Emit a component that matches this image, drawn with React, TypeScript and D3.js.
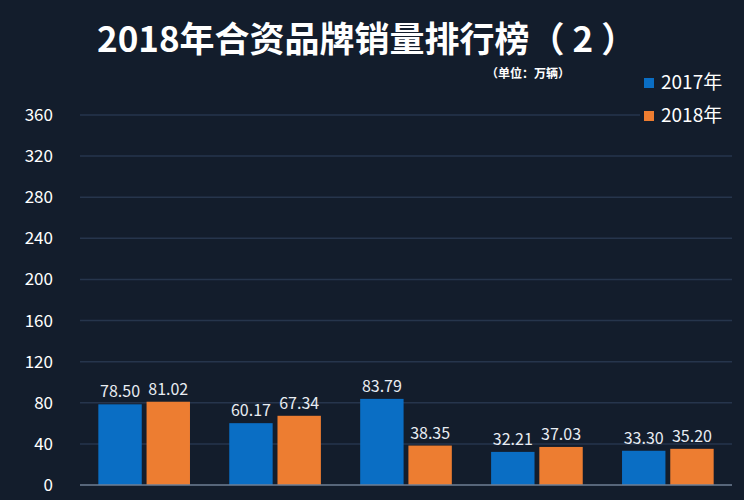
import React from 'react';
import { scaleBand, scaleLinear, range } from 'd3';

// 合资品牌销量（万辆）
const brands = ['A', 'B', 'C', 'D', 'E'];
const years = ['2017年', '2018年'];
const sales2017 = [78.5, 60.17, 83.79, 32.21, 33.3];
const sales2018 = [81.02, 67.34, 38.35, 37.03, 35.2];
const yTicks = range(0, 361, 40);

const colors = ['#0a6ec4', '#ed7d31'];
const bg = '#131d2c';
const font = '"Noto Sans CJK SC", "Noto Sans", sans-serif';

const width = 744;
const height = 500;
const margin = { top: 115, right: 12, bottom: 15, left: 80 };

export default function App() {
  const innerWidth = width - margin.left - margin.right;
  const innerHeight = height - margin.top - margin.bottom;

  const x0 = scaleBand<string>()
    .domain(brands)
    .range([0, innerWidth])
    .paddingInner(0.3)
    .paddingOuter(0.14);

  const x1 = scaleBand<string>()
    .domain(years)
    .range([0, x0.bandwidth()])
    .padding(0.1)
    .paddingOuter(0);

  const y = scaleLinear().domain([0, 360]).range([innerHeight, 0]);

  const series = [sales2017, sales2018];

  return (
    <svg
      width={width}
      height={height}
      style={{ position: 'absolute', left: 0, top: 0, background: bg }}
    >
      <rect width={width} height={height} fill={bg} />

      <text
        x={97}
        y={52}
        fill="#ffffff"
        fontFamily={font}
        fontWeight="bold"
        fontSize={35}
      >
        2018年合资品牌销量排行榜（ 2 ）
      </text>
      <text
        x={486}
        y={78}
        fill="#ffffff"
        fontFamily={font}
        fontWeight="bold"
        fontSize={12}
      >
        （单位：万辆）
      </text>

      <g transform={`translate(${margin.left},${margin.top})`}>
        {yTicks.map(t => (
          <g key={t} transform={`translate(0,${y(t)})`}>
            {t > 0 && (
              <line x2={innerWidth} stroke="#26354c" strokeWidth={1.5} />
            )}
            <text
              x={-27}
              dy="0.35em"
              textAnchor="end"
              fill="#ffffff"
              fontFamily={font}
              fontSize={17}
            >
              {t}
            </text>
          </g>
        ))}

        {brands.map((b, bi) => (
          <g key={b} transform={`translate(${x0(b)},0)`}>
            {years.map((yr, si) => {
              const v = series[si][bi];
              return (
                <g key={yr}>
                  <rect
                    x={x1(yr)}
                    y={y(v)}
                    width={x1.bandwidth()}
                    height={innerHeight - y(v)}
                    fill={colors[si]}
                  />
                  <text
                    x={(x1(yr) ?? 0) + x1.bandwidth() / 2}
                    y={y(v) - 7}
                    textAnchor="middle"
                    fill="#e8ecf2"
                    fontFamily={font}
                    fontSize={16}
                  >
                    {v.toFixed(2)}
                  </text>
                </g>
              );
            })}
          </g>
        ))}

        <line
          x1={0}
          x2={innerWidth}
          y1={innerHeight}
          y2={innerHeight}
          stroke="#6f7f94"
          strokeWidth={1.5}
        />
      </g>

      {/* legend box sits over the top gridline */}
      <rect x={640} y={68} width={100} height={62} fill={bg} />
      {years.map((yr, i) => (
        <g key={yr} transform={`translate(644,${78 + i * 33})`}>
          <rect width={10} height={10} fill={colors[i]} />
          <text x={17} y={11} fill="#ffffff" fontFamily={font} fontSize={19}>
            {yr}
          </text>
        </g>
      ))}
    </svg>
  );
}
